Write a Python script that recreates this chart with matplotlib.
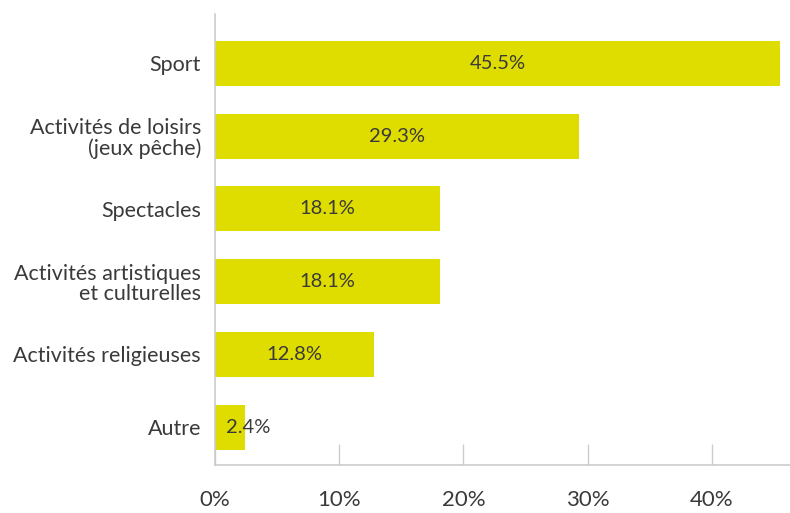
import matplotlib.pyplot as plt

categories = ["Sport", "Activités de loisirs\n(jeux pêche)", "Spectacles",
              "Activités artistiques\net culturelles", "Activités religieuses", "Autre"]
values = [45.5, 29.3, 18.1, 18.1, 12.8, 2.4]
xticks = [0, 10, 20, 30, 40]

plt.rcParams['font.family'] = ['Lato', 'DejaVu Sans']
text_color = "#3a3a3a"
bar_color = "#dfdd00"
axis_color = "#cccccc"

fig = plt.figure(figsize=(7.9, 5.13), dpi=100)
ax = fig.add_axes([215 / 790, 1 - 465 / 513, 575 / 790, 451 / 513])

y = range(len(categories))
ax.barh(y, values, height=0.62, color=bar_color)
for i, v in enumerate(values):
    xpos = v / 2 if v > 5 else 0.9
    ha = "center" if v > 5 else "left"
    ax.text(xpos, i, f"{v}%", ha=ha, va="center", fontsize=14.5, color=text_color)

ax.set_yticks(list(y))
ax.set_yticklabels(categories, fontsize=15.5, color=text_color, linespacing=1.0)
ax.set_ylim(5.52, -0.68)
ax.set_xlim(0, 46.3)
ax.set_xticks(xticks)
ax.set_xticklabels([f"{t}%" for t in xticks], fontsize=16, color=text_color)

for s in ["top", "right"]:
    ax.spines[s].set_visible(False)
for s in ["left", "bottom"]:
    ax.spines[s].set_color(axis_color)
    ax.spines[s].set_linewidth(1.2)
ax.tick_params(axis="y", length=0, pad=10)
ax.tick_params(axis="x", direction="in", length=15, color=axis_color, width=1, pad=18)

fig.savefig("out.png", dpi=100)
